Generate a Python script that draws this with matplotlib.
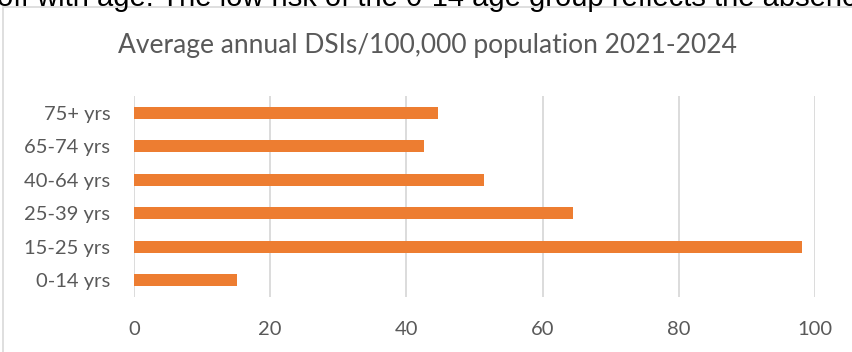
import matplotlib
matplotlib.use("Agg")
import matplotlib.pyplot as plt
from matplotlib.patches import Rectangle

# data
age_groups = ["0-14 yrs", "15-25 yrs", "25-39 yrs", "40-64 yrs", "65-74 yrs", "75+ yrs"]
dsi_rates = [15.1, 98.1, 64.4, 51.4, 42.6, 44.6]
x_ticks = [0, 20, 40, 60, 80, 100]

title = "Average annual DSIs/100,000 population 2021-2024"
body_text = "off with age. The low risk of the 0-14 age group reflects the absence"

W, H = 853, 352
fig = plt.figure(figsize=(W / 100, H / 100), dpi=100)

# chart frame (runs off the right and bottom edges)
fig.patches.append(Rectangle((3 / W, -0.1), 1.2, 1 - 7 / H + 0.1,
                             transform=fig.transFigure, fill=False,
                             edgecolor="#d9d9d9", linewidth=1.2))

# the cut-off line of body text above the chart
fig.text(-3 / W, 1 - 5.5 / H, body_text, fontsize=21, family="Liberation Sans",
         color="black", ha="left", va="baseline")

ax = fig.add_axes([134 / W, 1 - 297 / H, (815 - 134) / W, (297 - 96) / H])
ax.barh(range(len(age_groups)), dsi_rates, height=0.36, color="#ED7D31", zorder=3)

ax.set_xlim(0, 100)
ax.set_ylim(-0.5, len(age_groups) - 0.5)
ax.set_xticks(x_ticks)
ax.set_yticks(range(len(age_groups)))
ax.set_yticklabels(age_groups)
ax.grid(axis="x", color="#d9d9d9", linewidth=1.3, zorder=0)
for s in ax.spines.values():
    s.set_visible(False)
ax.tick_params(axis="both", length=0, labelsize=14.5, labelcolor="#595959")
ax.tick_params(axis="y", pad=17)
ax.tick_params(axis="x", pad=17)
for lab in ax.get_xticklabels() + ax.get_yticklabels():
    lab.set_family("Lato")

fig.text(428 / W, 1 - 45 / H, title, fontsize=19, family="Lato",
         color="#595959", ha="center", va="center")

fig.savefig("out.png", dpi=100)
